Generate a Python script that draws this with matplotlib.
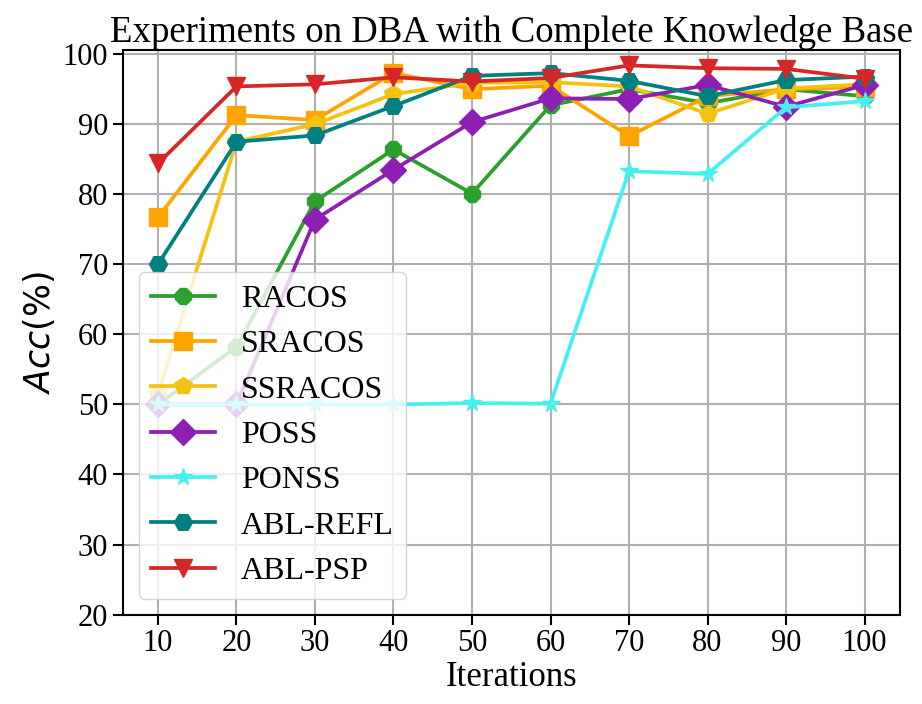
import numpy as np
import matplotlib
matplotlib.use("Agg")
import matplotlib.pyplot as plt

plt.rcParams['font.family'] = ['Liberation Serif', 'DejaVu Serif']
plt.rcParams['mathtext.fontset'] = 'dejavusans'

iterations = [10, 20, 30, 40, 50, 60, 70, 80, 90, 100]

racos = [50.0, 58.2, 79.0, 86.4, 80.1, 92.7, 95.0, 93.0, 95.0, 94.0]
sracos = [76.7, 91.3, 90.6, 97.3, 95.0, 95.5, 88.3, 94.0, 95.0, 95.3]
ssracos = [51.5, 87.5, 90.0, 94.3, 95.9, 96.0, 95.4, 91.5, 95.1, 95.7]
poss = [50.0, 50.0, 76.4, 83.5, 90.3, 93.7, 93.6, 95.6, 92.5, 95.6]
ponss = [50.0, 50.0, 50.0, 50.0, 50.2, 50.1, 83.3, 82.9, 92.4, 93.3]
abl_refl = [70.0, 87.5, 88.4, 92.6, 96.9, 97.3, 96.2, 94.0, 96.3, 96.8]
abl_psp = [84.4, 95.4, 95.7, 96.7, 96.1, 96.6, 98.4, 98.0, 97.9, 96.5]

names = ['RACOS', 'SRACOS', 'SSRACOS', 'POSS', 'PONSS', 'ABL-REFL', 'ABL-PSP']
series = [racos, sracos, ssracos, poss, ponss, abl_refl, abl_psp]
colors = ['#2ca02c', '#ffa500', '#f5c211', '#8e1fb4', '#46f0f0', '#008080', '#d62728']
markers = ['8', 's', 'p', 'D', '*', 'H', 'v']

fig, ax = plt.subplots(figsize=(9.22, 7.04), dpi=100)
fig.subplots_adjust(left=0.133, right=0.976, top=0.929, bottom=0.127)

for name, vals, c, m in zip(names, series, colors, markers):
    ax.plot(iterations, vals, color=c, marker=m, markersize=13, linewidth=2.7, label=name)

ax.set_xticks(iterations)
ax.set_ylim(20, 100.6)
ax.set_yticks(np.arange(20, 101, 10))
ax.tick_params(labelsize=22, length=7, width=1.5)
for s in ax.spines.values():
    s.set_linewidth(1.5)
ax.grid(True, color='#b0b0b0', linewidth=1.5)
ax.set_axisbelow(True)

ax.set_title('Experiments on DBA with Complete Knowledge Base', fontsize=26.5)
ax.set_xlabel('Iterations', fontsize=25, labelpad=2)
ax.set_ylabel('$Acc$(%)', fontsize=25, family='DejaVu Sans')
ax.legend(loc='lower left', fontsize=23)

plt.savefig('out.png')
